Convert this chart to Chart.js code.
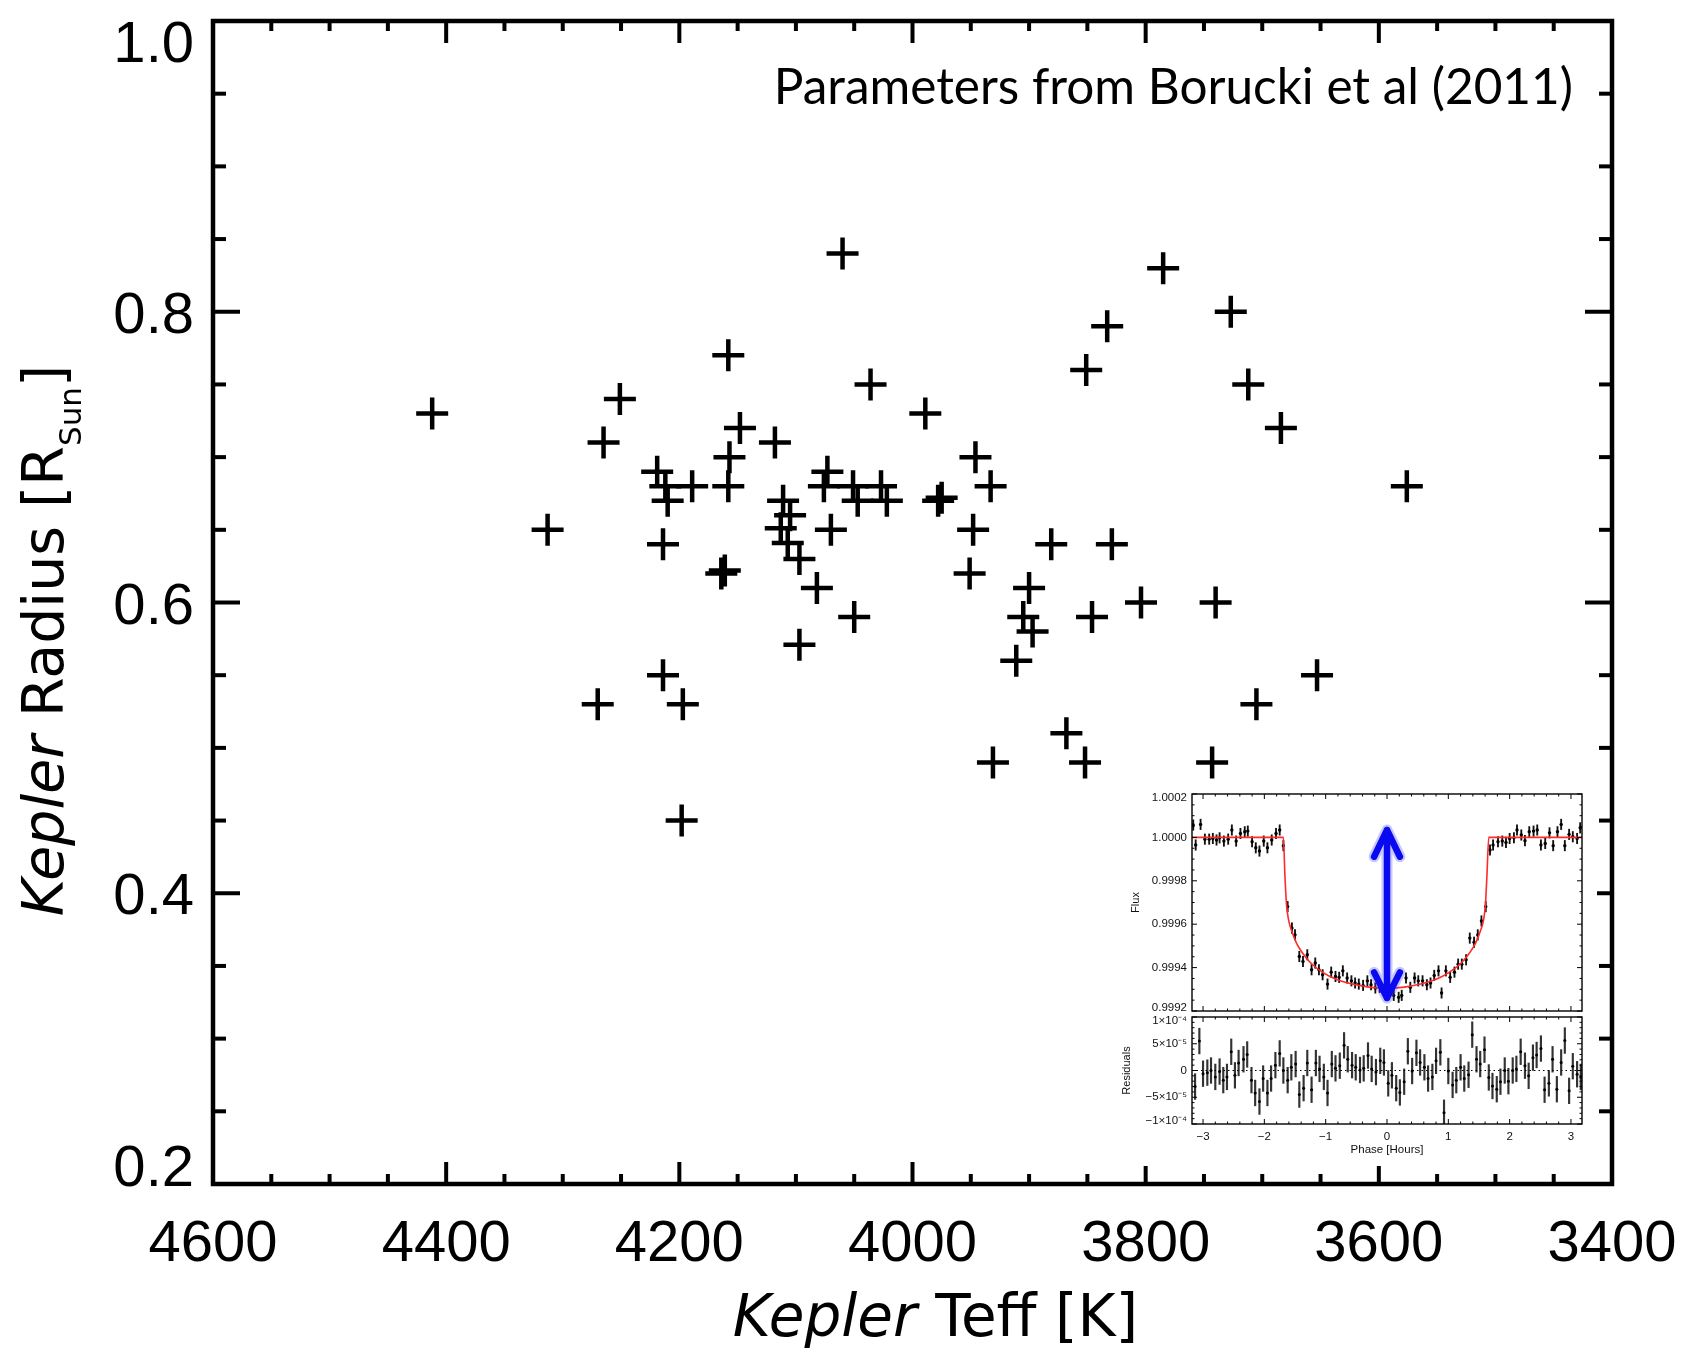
<!DOCTYPE html>
<html>
<head>
<meta charset="utf-8">
<title>Kepler Teff vs Radius</title>
<script src="https://cdn.jsdelivr.net/npm/chart.js@4.4.1/dist/chart.umd.min.js"></script>
<style>
  html, body { margin: 0; padding: 0; background: #fff; }
  #wrap { position: relative; width: 1689px; height: 1353px; }
  #main { position: absolute; left: 0; top: 0; }
  #inset { position: absolute; left: 1118px; top: 786px; width: 479px; height: 380px; background: #fff; }
  #inset canvas { position: absolute; left: 0; }
  #fluxChart { top: 0; }
  #residChart { top: 227px; }
</style>
</head>
<body>
<div id="wrap">
  <canvas id="main" width="1689" height="1353"></canvas>
  <div id="inset">
    <canvas id="fluxChart" width="479" height="229"></canvas>
    <canvas id="residChart" width="479" height="153"></canvas>
  </div>
</div>
<script>
// main panel: stellar parameters
const teff = [4412, 4313, 4265, 4251, 4270, 4219, 4212, 4210, 4214, 4214, 4197, 4198, 4189,
  4158, 4148, 4157, 4158, 4164, 4161, 4118, 4111, 4105, 4113, 4107, 4097, 4082, 4097,
  4073, 4076, 4070, 4060, 4051, 4047, 4027, 4022, 4050, 4036, 3989, 3978, 3975, 3946,
  3933, 3948, 3951, 3900, 3905, 3897, 3911, 3881, 3931, 3868, 3852, 3846, 3829, 3851,
  3833, 3804, 3785, 3740, 3743, 3727, 3712, 3705, 3684, 3653, 3576];
const radius = [0.730, 0.650, 0.710, 0.740, 0.530, 0.690, 0.680, 0.670, 0.640, 0.550, 0.530, 0.450, 0.680,
  0.770, 0.720, 0.700, 0.680, 0.620, 0.622, 0.710, 0.670, 0.660, 0.651, 0.641, 0.630, 0.610, 0.571,
  0.690, 0.680, 0.650, 0.840, 0.680, 0.670, 0.680, 0.670, 0.590, 0.750, 0.730, 0.670, 0.672, 0.700,
  0.680, 0.650, 0.620, 0.610, 0.590, 0.580, 0.560, 0.640, 0.490, 0.510, 0.490, 0.590, 0.640, 0.760,
  0.790, 0.600, 0.830, 0.600, 0.490, 0.800, 0.750, 0.530, 0.720, 0.550, 0.680];
const teffTicks = [4600, 4400, 4200, 4000, 3800, 3600, 3400];
const radiusTicks = [0.2, 0.4, 0.6, 0.8, 1.0];
const radiusTickLabels = ['0.2', '0.4', '0.6', '0.8', '1.0'];

// inset: folded transit light curve
const fluxPhase = [-3.16, -3.12, -3.04, -2.97, -2.90, -2.84, -2.78, -2.73, -2.66, -2.59, -2.53, -2.46,
  -2.39, -2.32, -2.27, -2.20, -2.14, -2.08, -2.01, -1.95, -1.88, -1.81, -1.75, -1.69, -1.62, -1.55,
  -1.50, -1.43, -1.37, -1.30, -1.23, -1.17, -1.11, -1.05, -0.97, -0.91, -0.84, -0.78, -0.72, -0.65,
  -0.58, -0.52, -0.46, -0.39, -0.32, -0.26, -0.19, -0.12, -0.05, 0.03, 0.11, 0.19, 0.24, 0.31, 0.38,
  0.45, 0.51, 0.58, 0.65, 0.71, 0.77, 0.84, 0.89, 0.96, 1.03, 1.10, 1.16, 1.22, 1.29, 1.35, 1.42,
  1.48, 1.54, 1.61, 1.68, 1.73, 1.81, 1.88, 1.94, 2.00, 2.07, 2.12, 2.19, 2.25, 2.32, 2.39, 2.45,
  2.51, 2.58, 2.65, 2.71, 2.78, 2.84, 2.90, 2.97, 3.03, 3.10, 3.15];
const flux = [1.000057, 0.999965, 1.000060, 0.999992, 0.999992, 0.999995, 0.999988, 0.999998, 0.999983,
  0.999992, 1.000034, 0.999983, 1.000018, 1.000026, 1.000029, 0.999980, 0.999952, 0.999937, 0.999983,
  0.999952, 0.999988, 1.000018, 1.000034, 0.999962, 0.999681, 0.999582, 0.999551, 0.999451, 0.999428,
  0.999459, 0.999390, 0.999421, 0.999390, 0.999367, 0.999324, 0.999379, 0.999359, 0.999355, 0.999385,
  0.999352, 0.999339, 0.999329, 0.999324, 0.999318, 0.999339, 0.999321, 0.999306, 0.999309, 0.999298,
  0.999285, 0.999272, 0.999263, 0.999272, 0.999352, 0.999309, 0.999352, 0.999339, 0.999339, 0.999321,
  0.999329, 0.999364, 0.999385, 0.999283, 0.999385, 0.999355, 0.999379, 0.999416, 0.999416, 0.999436,
  0.999536, 0.999517, 0.999551, 0.999615, 0.999681, 0.999942, 0.999965, 0.999980, 0.999983, 0.999977,
  0.999995, 0.999998, 1.000034, 1.000011, 0.999985, 1.000026, 1.000029, 1.000034, 0.999965, 0.999972,
  1.000021, 0.999962, 1.000026, 1.000060, 0.999962, 1.000014, 1.000003, 0.999995, 1.000044];
const fluxErr = 0.000024;
const modelPhase = [-3.18, -1.69, -1.665, -1.638, -1.605, -1.551, -1.476, -1.378, -1.243, -1.054, -0.838,
  -0.568, -0.297, 0, 0.28, 0.55, 0.81, 1.02, 1.21, 1.345, 1.445, 1.52, 1.575, 1.605, 1.63, 1.66, 3.18];
const modelFlux = [1.0, 1.0, 0.999827, 0.999689, 0.99962, 0.999566, 0.999513, 0.999467, 0.999421, 0.999379,
  0.999347, 0.999324, 0.99931, 0.999306, 0.99931, 0.999324, 0.999347, 0.999379, 0.999421, 0.999467,
  0.999513, 0.999566, 0.99962, 0.999689, 0.999827, 1.0, 1.0];
const resPhase = [-3.13, -3.06, -3.00, -2.93, -2.87, -2.80, -2.73, -2.67, -2.61, -2.54, -2.48, -2.42, -2.34,
  -2.28, -2.21, -2.15, -2.08, -2.02, -1.95, -1.89, -1.82, -1.75, -1.69, -1.62, -1.56, -1.49, -1.43,
  -1.36, -1.30, -1.23, -1.16, -1.10, -1.03, -0.97, -0.90, -0.84, -0.77, -0.70, -0.64, -0.57, -0.51,
  -0.44, -0.38, -0.31, -0.25, -0.18, -0.11, -0.05, 0.02, 0.08, 0.15, 0.21, 0.28, 0.34, 0.41, 0.48,
  0.54, 0.61, 0.67, 0.74, 0.80, 0.87, 0.93, 1.00, 1.07, 1.13, 1.20, 1.26, 1.33, 1.39, 1.46, 1.52,
  1.59, 1.66, 1.72, 1.79, 1.85, 1.92, 1.98, 2.05, 2.11, 2.18, 2.25, 2.31, 2.38, 2.44, 2.51, 2.57,
  2.64, 2.70, 2.77, 2.84, 2.90, 2.97, 3.03, 3.10, 3.16];
const resid = [-3.0e-5, 5.5e-5, -0.6e-5, -0.4e-5, 0, -1.2e-5, -0.2e-5, -1.8e-5, -1.2e-5, 3.5e-5, -0.9e-5,
  1.4e-5, 2.1e-5, 3.0e-5, -1.8e-5, -4.2e-5, -5.8e-5, -1.5e-5, -4.2e-5, -1.5e-5, 1.0e-5, 3.2e-5, 0,
  -1.8e-5, 0.6e-5, 1.2e-5, -4.5e-5, -3.3e-5, 1.4e-5, -3.6e-5, 1.4e-5, 0.3e-5, -1.2e-5, -4.2e-5, 1.2e-5,
  0.4e-5, 0.9e-5, 4.7e-5, 2.1e-5, 1.0e-5, 0.6e-5, 0.1e-5, 0.4e-5, 2.8e-5, 0.3e-5, -0.3e-5, 1.8e-5,
  1.5e-5, -2.4e-5, -0.9e-5, -3.3e-5, -4.1e-5, -2.1e-5, 3.6e-5, -0.1e-5, 3.3e-5, 1.5e-5, 0.6e-5,
  -1.5e-5, -1.2e-5, 1.8e-5, 3.4e-5, -7.9e-5, -0.1e-5, -2.7e-5, -1.8e-5, 0.6e-5, -1.5e-5, -0.8e-5,
  6.7e-5, 2.1e-5, 1.2e-5, 3.9e-5, -1.3e-5, -2.9e-5, -3.5e-5, -2.1e-5, 0, -2.0e-5, 0, 0.3e-5, 3.5e-5,
  0.9e-5, -1.0e-5, 2.4e-5, 2.9e-5, 4.1e-5, -3.6e-5, -2.4e-5, 2.1e-5, -3.5e-5, 1.5e-5, 5.6e-5, -3.8e-5,
  0.8e-5, -0.7e-5, -1.2e-5];
const resErr = 0.000024;
// depth arrow, null breaks the line between head and shaft
const arrowPhase = [-0.21, 0, 0.21, 0, 0, 0, 0, -0.21, 0, 0.21];
const arrowFlux = [0.999911, 1.000034, 0.999911, null, 1.000034, 0.99926, null, 0.999378, 0.99926, 0.999378];
const phaseTicks = [-3, -2, -1, 0, 1, 2, 3];
const phaseTickLabels = ['−3', '−2', '−1', '0', '1', '2', '3'];
const fluxTicks = [0.9992, 0.9994, 0.9996, 0.9998, 1.0000, 1.0002];
const fluxTickLabels = ['0.9992', '0.9994', '0.9996', '0.9998', '1.0000', '1.0002'];
const residTicks = [-1e-4, -5e-5, 0, 5e-5, 1e-4];
const residTickLabels = ['−1×10⁻⁴', '−5×10⁻⁵', '0', '5×10⁻⁵', '1×10⁻⁴'];

const HELV = '"Liberation Sans", Arial, Helvetica, sans-serif';
const TITLE = '"DejaVu Sans", Verdana, sans-serif';
const NOTE = 'Lato, "Open Sans", sans-serif';

function seg(ctx, x1, y1, x2, y2) {
  ctx.beginPath();
  ctx.moveTo(x1, y1);
  ctx.lineTo(x2, y2);
  ctx.stroke();
}

// chart.js reserves room for edge labels; the boxes here are sized by hand
function noPad(s) {
  s.paddingLeft = 0;
  s.paddingRight = 0;
  s.paddingTop = 0;
  s.paddingBottom = 0;
}

// text made of runs in different fonts, centred on cx
function drawRuns(ctx, runs, cx, base) {
  let w = 0;
  runs.forEach(r => { ctx.font = r.font; w += ctx.measureText(r.text).width; });
  let x = cx - w / 2;
  ctx.textAlign = 'left';
  ctx.textBaseline = 'alphabetic';
  runs.forEach(r => {
    ctx.font = r.font;
    ctx.fillText(r.text, x, base + (r.dy || 0));
    x += ctx.measureText(r.text).width;
  });
}

const mainFrame = {
  id: 'mainFrame',
  afterDraw(chart) {
    const { ctx, chartArea: a, scales: { x, y } } = chart;
    ctx.save();
    ctx.strokeStyle = '#000';
    ctx.fillStyle = '#000';

    // inward ticks on all four sides
    ctx.lineWidth = 4;
    for (let t = 3400; t <= 4600; t += 50) {
      const px = x.getPixelForValue(t);
      const len = t % 200 === 0 ? 22 : 10;
      seg(ctx, px, a.bottom, px, a.bottom - len);
      seg(ctx, px, a.top, px, a.top + len);
    }
    for (let i = 0; i <= 16; i++) {
      const py = y.getPixelForValue(0.2 + i * 0.05);
      const len = i % 4 === 0 ? 27 : 13;
      seg(ctx, a.left, py, a.left + len, py);
      seg(ctx, a.right, py, a.right - len, py);
    }
    ctx.lineWidth = 4.5;
    ctx.strokeRect(a.left, a.top, a.right - a.left, a.bottom - a.top);

    // y tick labels, end labels kept inside the frame
    ctx.font = '58px ' + HELV;
    ctx.textAlign = 'right';
    ctx.textBaseline = 'alphabetic';
    radiusTicks.forEach((v, i) => {
      let cy = y.getPixelForValue(v);
      cy = Math.min(Math.max(cy, a.top + 20), a.bottom - 19);
      ctx.fillText(radiusTickLabels[i], a.left - 19, cy + 21);
    });

    // axis titles
    const midX = (a.left + a.right) / 2;
    const midY = (a.top + a.bottom) / 2;
    drawRuns(ctx, [
      { text: 'Kepler', font: 'italic 58px ' + TITLE },
      { text: ' Teff [K]', font: '58px ' + TITLE }
    ], midX + 23, 1336);

    ctx.save();
    ctx.translate(63, midY + 38);
    ctx.rotate(-Math.PI / 2);
    drawRuns(ctx, [
      { text: 'Kepler', font: 'italic 57px ' + TITLE },
      { text: ' Radius [R', font: '57px ' + TITLE },
      { text: 'Sun', font: '31px ' + TITLE, dy: 18 },
      { text: ']', font: '57px ' + TITLE }
    ], 0, 0);
    ctx.restore();

    ctx.font = '49.5px ' + NOTE;
    ctx.textAlign = 'right';
    ctx.fillText('Parameters from Borucki et al (2011)', a.right - 39, a.top + 83);
    ctx.restore();
  }
};

new Chart(document.getElementById('main'), {
  type: 'scatter',
  data: {
    datasets: [{
      data: teff.map((t, i) => ({ x: t, y: radius[i] })),
      pointStyle: 'cross',
      pointRadius: 16,
      pointBorderWidth: 4.5,
      pointBorderColor: '#000',
      pointBackgroundColor: '#000'
    }]
  },
  options: {
    responsive: false,
    animation: false,
    events: [],
    layout: { padding: { left: 0, right: 77, top: 21, bottom: 0 } },
    plugins: { legend: { display: false }, tooltip: { enabled: false } },
    scales: {
      x: {
        type: 'linear',
        reverse: true,
        min: 3400,
        max: 4600,
        grid: { display: false, drawTicks: false },
        border: { display: false },
        afterBuildTicks: s => { s.ticks = teffTicks.map(v => ({ value: v })); },
        afterFit: s => { s.height = 169; noPad(s); },
        ticks: {
          color: '#000',
          font: { family: HELV, size: 58 },
          padding: 26,
          maxRotation: 0,
          autoSkip: false,
          callback: v => String(v)
        }
      },
      y: {
        type: 'linear',
        min: 0.2,
        max: 1.0,
        grid: { display: false, drawTicks: false },
        border: { display: false },
        ticks: { display: false },
        afterFit: s => { s.width = 213; noPad(s); }
      }
    }
  },
  plugins: [mainFrame]
});

// IDL style box with inward ticks and edge-clamped y labels for the inset panels
const insetFrame = {
  id: 'insetFrame',
  afterDraw(chart) {
    const { ctx, chartArea: a, scales: { x, y } } = chart;
    const o = chart.options.plugins.insetFrame;
    ctx.save();
    ctx.strokeStyle = '#000';
    ctx.fillStyle = '#111';
    ctx.lineWidth = 1;
    for (let k = -16; k <= 16; k++) {
      const px = x.getPixelForValue(k * 0.2);
      if (px < a.left || px > a.right) continue;
      const len = k % 5 === 0 ? 5 : 2.5;
      seg(ctx, px, a.bottom, px, a.bottom - len);
      seg(ctx, px, a.top, px, a.top + len);
    }
    for (let i = 0; i <= o.count; i++) {
      const py = y.getPixelForValue(o.start + i * o.step);
      const len = i % o.major === 0 ? 5 : 2.5;
      seg(ctx, a.left, py, a.left + len, py);
      seg(ctx, a.right, py, a.right - len, py);
    }
    ctx.lineWidth = 1.4;
    ctx.strokeRect(a.left, a.top, a.right - a.left, a.bottom - a.top);

    ctx.font = '11.5px ' + HELV;
    ctx.textAlign = 'right';
    ctx.textBaseline = 'middle';
    o.ticks.forEach((v, i) => {
      let cy = y.getPixelForValue(v);
      cy = Math.min(Math.max(cy, a.top + 4), a.bottom - 3);
      ctx.fillText(o.labels[i], a.left - 5, cy);
    });
    ctx.restore();
  }
};

const insetBase = {
  responsive: false,
  animation: false,
  events: [],
  plugins: { legend: { display: false }, tooltip: { enabled: false } }
};

new Chart(document.getElementById('fluxChart'), {
  type: 'scatter',
  data: {
    datasets: [
      {
        type: 'line',
        data: arrowPhase.map((p, i) => ({ x: p, y: arrowFlux[i] })),
        borderColor: '#0a0af0',
        borderWidth: 6.5,
        borderCapStyle: 'round',
        borderJoinStyle: 'round',
        pointRadius: 0,
        spanGaps: false,
        order: 0
      },
      {
        type: 'line',
        data: arrowPhase.map((p, i) => ({ x: p, y: arrowFlux[i] })),
        borderColor: 'rgba(70,70,255,0.3)',
        borderWidth: 11,
        borderCapStyle: 'round',
        borderJoinStyle: 'round',
        pointRadius: 0,
        spanGaps: false,
        order: 1
      },
      {
        type: 'line',
        data: modelPhase.map((p, i) => ({ x: p, y: modelFlux[i] })),
        borderColor: '#ff2a2a',
        borderWidth: 1.6,
        pointRadius: 0,
        cubicInterpolationMode: 'monotone',
        order: 2
      },
      {
        type: 'scatter',
        data: fluxPhase.map((p, i) => ({ x: p, y: flux[i] })),
        pointRadius: 1.7,
        pointBackgroundColor: '#000',
        pointBorderWidth: 0,
        order: 3
      },
      {
        type: 'bar',
        data: fluxPhase.map((p, i) => ({ x: p, y: [flux[i] - fluxErr, flux[i] + fluxErr] })),
        backgroundColor: '#111',
        barThickness: 1.2,
        borderWidth: 0,
        order: 4
      }
    ]
  },
  options: {
    ...insetBase,
    layout: { padding: { left: 0, right: 15, top: 8, bottom: 0 } },
    plugins: {
      ...insetBase.plugins,
      insetFrame: { start: 0.9992, step: 0.00005, count: 20, major: 4, ticks: fluxTicks, labels: fluxTickLabels }
    },
    scales: {
      x: {
        type: 'linear', min: -3.18, max: 3.18, offset: false,
        grid: { display: false, drawTicks: false, offset: false },
        border: { display: false },
        ticks: { display: false },
        afterFit: s => { s.height = 4; noPad(s); }
      },
      y: {
        type: 'linear', min: 0.9992, max: 1.0002, beginAtZero: false,
        grid: { display: false, drawTicks: false },
        border: { display: false },
        ticks: { display: false },
        afterFit: s => { s.width = 74; noPad(s); },
        title: { display: true, text: 'Flux', color: '#111', font: { family: HELV, size: 11 }, padding: { top: 11, bottom: 0 } }
      }
    }
  },
  plugins: [insetFrame]
});

new Chart(document.getElementById('residChart'), {
  type: 'scatter',
  data: {
    datasets: [
      {
        type: 'line',
        data: [{ x: -3.18, y: 0 }, { x: 3.18, y: 0 }],
        borderColor: '#000',
        borderWidth: 1.2,
        borderDash: [1.5, 3],
        pointRadius: 0,
        order: 2
      },
      {
        type: 'scatter',
        data: resPhase.map((p, i) => ({ x: p, y: resid[i] })),
        pointRadius: 1.5,
        pointBackgroundColor: '#000',
        pointBorderWidth: 0,
        order: 1
      },
      {
        type: 'bar',
        data: resPhase.map((p, i) => ({ x: p, y: [resid[i] - resErr, resid[i] + resErr] })),
        backgroundColor: '#333',
        barThickness: 1.5,
        borderWidth: 0,
        order: 3
      }
    ]
  },
  options: {
    ...insetBase,
    layout: { padding: { left: 0, right: 15, top: 2, bottom: 0 } },
    plugins: {
      ...insetBase.plugins,
      insetFrame: { start: -1e-4, step: 1e-5, count: 20, major: 5, ticks: residTicks, labels: residTickLabels }
    },
    scales: {
      x: {
        type: 'linear', min: -3.18, max: 3.18, offset: false,
        grid: { display: false, drawTicks: false, offset: false },
        border: { display: false },
        afterBuildTicks: s => { s.ticks = phaseTicks.map(v => ({ value: v })); },
        afterFit: s => { s.height = 42; noPad(s); },
        ticks: { color: '#111', font: { family: HELV, size: 11.5 }, padding: 6, maxRotation: 0, autoSkip: false,
          callback: (v, i) => phaseTickLabels[i] },
        title: { display: true, text: 'Phase [Hours]', color: '#111', font: { family: HELV, size: 11.5 }, padding: { top: 0, bottom: 9 } }
      },
      y: {
        type: 'linear', min: -1e-4, max: 1e-4, beginAtZero: false,
        grid: { display: false, drawTicks: false },
        border: { display: false },
        ticks: { display: false },
        afterFit: s => { s.width = 74; noPad(s); },
        title: { display: true, text: 'Residuals', color: '#111', font: { family: HELV, size: 11 }, padding: { top: 2, bottom: 0 } }
      }
    }
  },
  plugins: [insetFrame]
});
</script>
</body>
</html>
